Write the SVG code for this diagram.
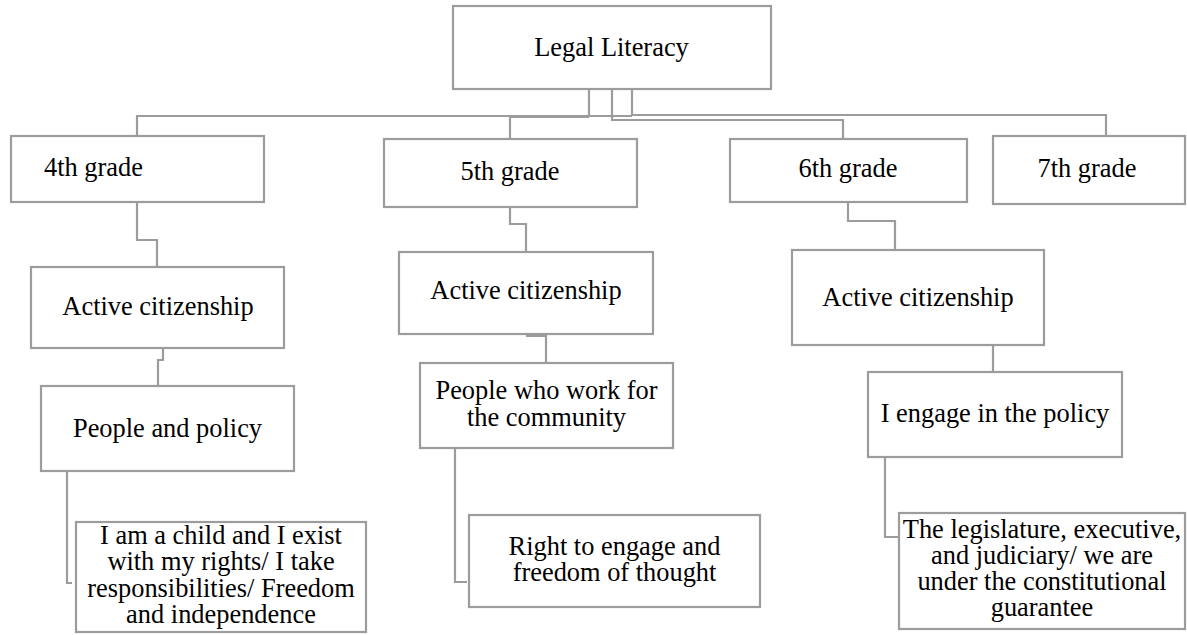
<svg xmlns="http://www.w3.org/2000/svg" width="1187" height="635" viewBox="0 0 1187 635">
  <style>
    .box { fill: #ffffff; stroke: #9c9c9c; stroke-width: 2.2; }
    .link { fill: none; stroke: #9c9c9c; stroke-width: 2.2; stroke-linejoin: miter; }
    .lbl { font-family: "Liberation Serif", "Times New Roman", serif; font-size: 26.4px; fill: #000000; }
    .mid { text-anchor: middle; }
  </style>
  <rect width="1187" height="635" fill="#ffffff"/>

  <!-- connectors -->
  <g id="connectors">
    <path class="link" d="M589,89 V116 H137 V136"/>
    <path class="link" d="M589,117 H510 V139"/>
    <path class="link" d="M589,116 H632"/>
    <path class="link" d="M612,89 V120 H843 V139"/>
    <path class="link" d="M632,89 V115 H1106 V136"/>
    <path class="link" d="M137,202 V240 H157 V267"/>
    <path class="link" d="M163,348 V360 H158 V386"/>
    <path class="link" d="M67,471 V583 H72"/>
    <path class="link" d="M510,207 V224 H526 V252"/>
    <path class="link" d="M526,336 H546 V363"/>
    <path class="link" d="M455,448 V582 H467"/>
    <path class="link" d="M848,202 V221 H895 V250"/>
    <path class="link" d="M993,345 V372"/>
    <path class="link" d="M885,457 V537 H898"/>
  </g>

  <!-- root -->
  <g id="legal-literacy">
    <rect class="box" x="453" y="6" width="318" height="83"/>
    <text class="lbl mid" x="611.5" y="56">Legal Literacy</text>
  </g>

  <!-- grade level -->
  <g id="grade-4">
    <rect class="box" x="11" y="136" width="253" height="66"/>
    <text class="lbl" x="44" y="176">4th grade</text>
  </g>
  <g id="grade-5">
    <rect class="box" x="384" y="139" width="253" height="68"/>
    <text class="lbl mid" x="510" y="180">5th grade</text>
  </g>
  <g id="grade-6">
    <rect class="box" x="730" y="139" width="237" height="63"/>
    <text class="lbl mid" x="848" y="177">6th grade</text>
  </g>
  <g id="grade-7">
    <rect class="box" x="993" y="136" width="192" height="68"/>
    <text class="lbl mid" x="1087" y="177">7th grade</text>
  </g>

  <!-- theme level -->
  <g id="citizenship-4">
    <rect class="box" x="31" y="267" width="253" height="81"/>
    <text class="lbl mid" x="158" y="315">Active citizenship</text>
  </g>
  <g id="citizenship-5">
    <rect class="box" x="399" y="252" width="254" height="82"/>
    <text class="lbl mid" x="526" y="299">Active citizenship</text>
  </g>
  <g id="citizenship-6">
    <rect class="box" x="792" y="250" width="252" height="95"/>
    <text class="lbl mid" x="918" y="306">Active citizenship</text>
  </g>

  <!-- unit level -->
  <g id="unit-4">
    <rect class="box" x="41" y="386" width="253" height="85"/>
    <text class="lbl mid" x="167.5" y="437">People and policy</text>
  </g>
  <g id="unit-5">
    <rect class="box" x="420" y="363" width="253" height="85"/>
    <text class="lbl mid" x="546.5" y="399">People who work for</text>
    <text class="lbl mid" x="546.5" y="426">the community</text>
  </g>
  <g id="unit-6">
    <rect class="box" x="868" y="372" width="254" height="85"/>
    <text class="lbl mid" x="995" y="422">I engage in the policy</text>
  </g>

  <!-- topic level -->
  <g id="topic-4">
    <rect class="box" x="76" y="522" width="290" height="110"/>
    <text class="lbl mid" x="221" y="544">I am a child and I exist</text>
    <text class="lbl mid" x="221" y="570">with my rights/ I take</text>
    <text class="lbl mid" x="221" y="597">responsibilities/ Freedom</text>
    <text class="lbl mid" x="221" y="623">and independence</text>
  </g>
  <g id="topic-5">
    <rect class="box" x="469" y="515" width="291" height="92"/>
    <text class="lbl mid" x="614.5" y="555">Right to engage and</text>
    <text class="lbl mid" x="614.5" y="581">freedom of thought</text>
  </g>
  <g id="topic-6">
    <rect class="box" x="899" y="513" width="286" height="116"/>
    <text class="lbl mid" x="1042" y="538">The legislature, executive,</text>
    <text class="lbl mid" x="1042" y="564">and judiciary/ we are</text>
    <text class="lbl mid" x="1042" y="590">under the constitutional</text>
    <text class="lbl mid" x="1042" y="616">guarantee</text>
  </g>
</svg>
